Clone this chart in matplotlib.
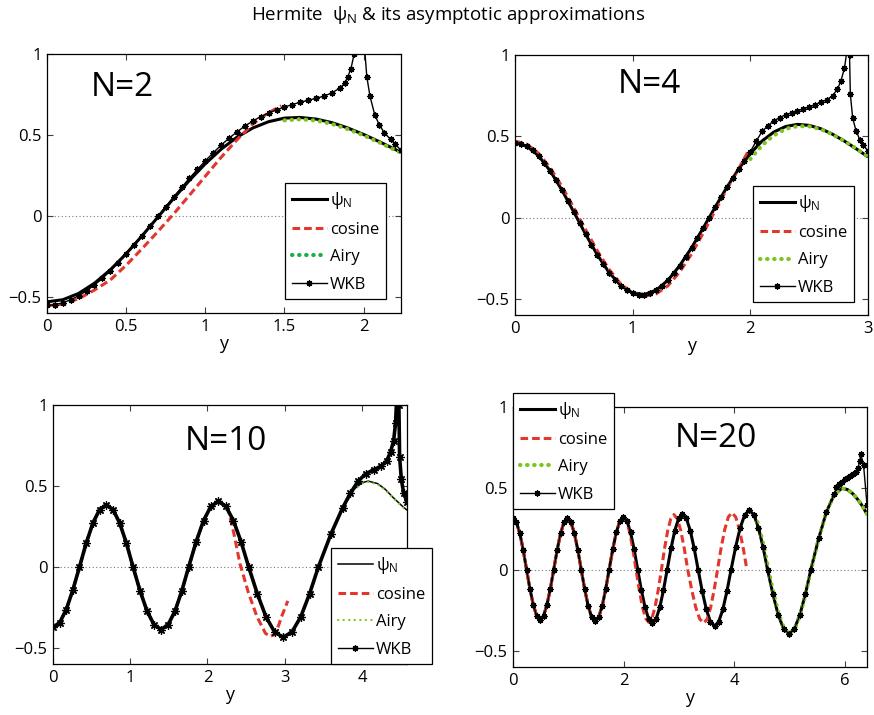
import matplotlib
matplotlib.use("Agg")
import matplotlib.pyplot as plt
from matplotlib.lines import Line2D
from matplotlib.ticker import FuncFormatter

plt.rcParams["font.family"] = ["Open Sans", "DejaVu Sans"]
plt.rcParams["mathtext.fontset"] = "custom"
plt.rcParams["mathtext.rm"] = "Open Sans"
plt.rcParams["mathtext.it"] = "Open Sans:italic"
plt.rcParams["mathtext.bf"] = "Open Sans:bold"
plt.rcParams["axes.unicode_minus"] = True

# ---------------------------------------------------------------- N = 2
psi2_x = [0.0, 0.1, 0.2, 0.3, 0.4, 0.5, 0.6, 0.7, 0.8, 0.9, 1.0, 1.1, 1.2,
          1.3, 1.4, 1.5, 1.6, 1.7, 1.8, 1.9, 2.0, 2.1, 2.2, 2.236]
psi2_y = [-0.531, -0.518, -0.479, -0.416, -0.333, -0.234, -0.124, -0.008,
          0.108, 0.220, 0.322, 0.412, 0.486, 0.543, 0.582, 0.604, 0.608,
          0.598, 0.576, 0.543, 0.503, 0.458, 0.410, 0.392]
cos2_x = [0.0, 0.1, 0.2, 0.3, 0.4, 0.5, 0.6, 0.7, 0.8, 0.9, 1.0, 1.1, 1.2,
          1.3, 1.4, 1.48]
cos2_y = [-0.555, -0.545, -0.512, -0.458, -0.396, -0.305, -0.203, -0.097,
          0.012, 0.128, 0.245, 0.362, 0.470, 0.568, 0.638, 0.680]
airy2_x = [1.5, 1.6, 1.7, 1.8, 1.9, 2.0, 2.1, 2.2, 2.236]
airy2_y = [0.590, 0.597, 0.589, 0.568, 0.536, 0.497, 0.453, 0.406, 0.390]
wkb2_x = [0.0, 0.05, 0.1, 0.15, 0.2, 0.25, 0.3, 0.35, 0.4, 0.45, 0.5, 0.55,
          0.6, 0.65, 0.7, 0.75, 0.8, 0.85, 0.9, 0.95, 1.0, 1.05, 1.1, 1.15,
          1.2, 1.25, 1.3, 1.35, 1.4, 1.45, 1.5, 1.55, 1.6, 1.65, 1.7, 1.75,
          1.8, 1.85, 1.88, 1.9, 1.92, 1.94, 1.96, 1.985, 2.005, 2.02, 2.04,
          2.07, 2.1, 2.13, 2.17, 2.2, 2.236]
wkb2_y = [-0.553, -0.549, -0.537, -0.518, -0.494, -0.463, -0.427, -0.386,
          -0.340, -0.291, -0.237, -0.181, -0.123, -0.064, -0.003, 0.057,
          0.117, 0.176, 0.233, 0.287, 0.340, 0.390, 0.437, 0.480, 0.519,
          0.555, 0.586, 0.613, 0.636, 0.655, 0.672, 0.688, 0.702, 0.714,
          0.726, 0.740, 0.760, 0.790, 0.818, 0.860, 0.910, 1.000, 1.200,
          2.500, 1.050, 0.860, 0.740, 0.625, 0.560, 0.515, 0.472, 0.442,
          0.405]

# ---------------------------------------------------------------- N = 4
psi4_x = [0.0, 0.1, 0.2, 0.3, 0.4, 0.5, 0.6, 0.7, 0.8, 0.9, 1.0, 1.1, 1.2,
          1.3, 1.4, 1.5, 1.6, 1.7, 1.8, 1.9, 2.0, 2.1, 2.2, 2.3, 2.4, 2.5,
          2.6, 2.7, 2.8, 2.9, 3.0]
psi4_y = [0.460, 0.439, 0.380, 0.286, 0.167, 0.034, -0.103, -0.230, -0.339,
          -0.419, -0.465, -0.474, -0.447, -0.386, -0.296, -0.187, -0.064,
          0.062, 0.185, 0.298, 0.394, 0.471, 0.526, 0.560, 0.573, 0.567,
          0.546, 0.512, 0.470, 0.423, 0.373]
cos4_x = [0.0, 0.1, 0.2, 0.3, 0.4, 0.5, 0.6, 0.7, 0.8, 0.9, 1.0, 1.1, 1.2,
          1.3, 1.4, 1.5, 1.6, 1.7, 1.8, 1.9, 1.98]
cos4_y = [0.470, 0.452, 0.395, 0.305, 0.190, 0.060, -0.075, -0.205, -0.320,
          -0.410, -0.465, -0.485, -0.470, -0.420, -0.335, -0.225, -0.095,
          0.040, 0.175, 0.300, 0.405]
airy4_x = [2.0, 2.1, 2.2, 2.3, 2.4, 2.5, 2.6, 2.7, 2.8, 2.9, 3.0]
airy4_y = [0.360, 0.445, 0.505, 0.545, 0.562, 0.561, 0.543, 0.511, 0.470,
           0.424, 0.375]
wkb4_x = [0.0, 0.05, 0.1, 0.15, 0.2, 0.25, 0.3, 0.35, 0.4, 0.45, 0.5, 0.55,
          0.6, 0.65, 0.7, 0.75, 0.8, 0.85, 0.9, 0.95, 1.0, 1.05, 1.1, 1.15,
          1.2, 1.25, 1.3, 1.35, 1.4, 1.45, 1.5, 1.55, 1.6, 1.65, 1.7, 1.75,
          1.8, 1.85, 1.9, 1.95, 2.0, 2.05, 2.1, 2.15, 2.2, 2.25, 2.3, 2.35,
          2.4, 2.45, 2.5, 2.55, 2.6, 2.65, 2.7, 2.74, 2.77, 2.8, 2.82, 2.835,
          2.843, 2.85, 2.87, 2.9, 2.93, 2.96, 3.0]
wkb4_y = [0.460, 0.455, 0.439, 0.414, 0.380, 0.337, 0.286, 0.229, 0.167,
          0.102, 0.034, -0.035, -0.103, -0.168, -0.230, -0.288, -0.339,
          -0.383, -0.419, -0.446, -0.465, -0.474, -0.474, -0.465, -0.447,
          -0.420, -0.386, -0.344, -0.296, -0.244, -0.187, -0.127, -0.064,
          -0.001, 0.062, 0.125, 0.185, 0.243, 0.298, 0.348, 0.405, 0.470,
          0.530, 0.565, 0.595, 0.615, 0.632, 0.645, 0.657, 0.668, 0.680,
          0.695, 0.710, 0.725, 0.750, 0.790, 0.840, 0.920, 1.020, 2.000,
          1.000, 0.760, 0.610, 0.530, 0.480, 0.445, 0.410]

# ---------------------------------------------------------------- N = 10
psi10_x = [0.0, 0.086, 0.171, 0.257, 0.343, 0.430, 0.517, 0.603, 0.690,
           0.777, 0.863, 0.950, 1.036, 1.127, 1.218, 1.309, 1.400, 1.489,
           1.579, 1.668, 1.757, 1.853, 1.949, 2.044, 2.140, 2.238, 2.336,
           2.435, 2.533, 2.645, 2.757, 2.868, 2.980, 3.094, 3.208, 3.322,
           3.436, 3.600, 3.750, 3.900, 4.000, 4.080, 4.200, 4.300, 4.400,
           4.500, 4.583]
psi10_y = [-0.373, -0.345, -0.264, -0.143, 0.0, 0.147, 0.271, 0.354, 0.383,
           0.354, 0.271, 0.147, 0.0, -0.148, -0.274, -0.358, -0.387, -0.358,
           -0.274, -0.148, 0.0, 0.155, 0.286, 0.374, 0.405, 0.374, 0.286,
           0.155, 0.0, -0.166, -0.308, -0.402, -0.435, -0.402, -0.308,
           -0.166, 0.0, 0.205, 0.365, 0.480, 0.520, 0.530, 0.515, 0.480,
           0.430, 0.385, 0.350]
cos10_tail_x = [2.20, 2.27, 2.34, 2.42, 2.53, 2.64, 2.75, 2.81, 2.86, 2.90,
                2.96, 3.04]
cos10_tail_y = [0.390, 0.350, 0.210, 0.020, -0.160, -0.307, -0.410, -0.430,
                -0.420, -0.390, -0.307, -0.210]
airy10_x = [3.600, 3.750, 3.900, 4.000, 4.080, 4.200, 4.300, 4.400, 4.500,
            4.583]
airy10_y = [0.200, 0.360, 0.475, 0.515, 0.525, 0.510, 0.476, 0.426, 0.381,
            0.346]
wkb10_tail_x = [3.85, 3.95, 4.05, 4.15, 4.25, 4.32, 4.37, 4.41, 4.435, 4.45,
                4.465, 4.478, 4.487, 4.51, 4.54, 4.583]
wkb10_tail_y = [0.455, 0.530, 0.575, 0.600, 0.622, 0.655, 0.710, 0.780,
                0.890, 1.050, 2.000, 1.000, 0.680, 0.540, 0.455, 0.400]

# ---------------------------------------------------------------- N = 20
psi20_x = [0.0, 0.061, 0.123, 0.184, 0.245, 0.306, 0.368, 0.429, 0.490,
           0.552, 0.613, 0.675, 0.737, 0.799, 0.861, 0.923, 0.985, 1.047,
           1.110, 1.172, 1.234, 1.297, 1.360, 1.423, 1.486, 1.549, 1.613,
           1.676, 1.739, 1.804, 1.868, 1.933, 1.997, 2.062, 2.126, 2.191,
           2.255, 2.321, 2.388, 2.454, 2.520, 2.587, 2.655, 2.722, 2.789,
           2.858, 2.927, 2.996, 3.065, 3.136, 3.206, 3.277, 3.348, 3.422,
           3.497, 3.571, 3.645, 3.720, 3.795, 3.870, 3.945, 4.028, 4.110,
           4.193, 4.275, 4.357, 4.439, 4.522, 4.604, 4.701, 4.797, 4.894,
           4.990, 5.090, 5.189, 5.289, 5.388, 5.529, 5.669, 5.810, 5.950,
           6.050, 6.150, 6.250, 6.330, 6.403]
psi20_y = [0.315, 0.291, 0.223, 0.121, 0.0, -0.119, -0.219, -0.286, -0.310,
           -0.286, -0.219, -0.119, 0.0, 0.121, 0.223, 0.291, 0.315, 0.291,
           0.223, 0.121, 0.0, -0.122, -0.225, -0.294, -0.318, -0.294, -0.225,
           -0.122, 0.0, 0.124, 0.228, 0.298, 0.323, 0.298, 0.228, 0.124, 0.0,
           -0.126, -0.233, -0.305, -0.330, -0.305, -0.233, -0.126, 0.0, 0.130,
           0.240, 0.314, 0.340, 0.314, 0.240, 0.130, 0.0, -0.133, -0.246,
           -0.322, -0.348, -0.322, -0.246, -0.133, 0.0, 0.140, 0.258, 0.337,
           0.365, 0.337, 0.258, 0.140, 0.0, -0.151, -0.279, -0.365, -0.395,
           -0.365, -0.279, -0.151, 0.0, 0.191, 0.354, 0.462, 0.500, 0.492,
           0.465, 0.425, 0.385, 0.340]
cos20_tail_x = [2.054, 2.111, 2.168, 2.225, 2.283, 2.340, 2.398, 2.455,
                2.513, 2.570, 2.628, 2.685, 2.741, 2.798, 2.854, 2.910, 2.973,
                3.035, 3.098, 3.160, 3.233, 3.305, 3.378, 3.450, 3.513, 3.575,
                3.638, 3.700, 3.765, 3.830, 3.895, 3.960, 4.028, 4.095, 4.163,
                4.230]
cos20_tail_y = [0.298, 0.228, 0.124, 0.0, -0.124, -0.230, -0.300, -0.325,
                -0.300, -0.230, -0.124, 0.0, 0.129, 0.239, 0.312, 0.338, 0.312,
                0.239, 0.129, 0.0, -0.126, -0.233, -0.305, -0.330, -0.305,
                -0.233, -0.126, 0.0, 0.134, 0.247, 0.323, 0.350, 0.323, 0.247,
                0.134, 0.0]
airy20_x = [4.290, 4.372, 4.455, 4.538, 4.620, 4.716, 4.811, 4.906, 5.000,
            5.097, 5.194, 5.292, 5.390, 5.530, 5.670, 5.810, 5.955, 6.050,
            6.150, 6.250, 6.330, 6.403]
airy20_y = [0.365, 0.337, 0.258, 0.140, 0.0, -0.151, -0.279, -0.365, -0.395,
            -0.365, -0.279, -0.151, 0.0, 0.191, 0.354, 0.462, 0.500, 0.492,
            0.465, 0.425, 0.385, 0.340]
wkb20_tail_x = [5.85, 5.90, 5.95, 6.00, 6.05, 6.10, 6.15, 6.20, 6.24, 6.27,
                6.29, 6.34, 6.403]
wkb20_tail_y = [0.505, 0.525, 0.540, 0.556, 0.565, 0.575, 0.585, 0.600,
                0.625, 0.665, 0.710, 0.645, 0.400]

# series assembled from the shared parts
cos10_x = psi10_x[:25] + cos10_tail_x
cos10_y = psi10_y[:25] + cos10_tail_y
wkb10_x = psi10_x[:39] + wkb10_tail_x
wkb10_y = psi10_y[:39] + wkb10_tail_y
cos20_x = psi20_x[:33] + cos20_tail_x
cos20_y = psi20_y[:33] + cos20_tail_y
wkb20_x = psi20_x[:80] + wkb20_tail_x
wkb20_y = psi20_y[:80] + wkb20_tail_y

panel_names = ["N=2", "N=4", "N=10", "N=20"]
x_limits = [2.236, 3.0, 4.583, 6.403]
x_ticks = [[0, 0.5, 1, 1.5, 2], [0, 1, 2, 3], [0, 1, 2, 3, 4], [0, 2, 4, 6]]
y_ticks = [-0.5, 0, 0.5, 1]
legend_labels = [r"$\mathrm{\psi}_\mathrm{N}$", "cosine", "Airy", "WKB"]

RED = "#e3362c"
LIME = "#7cc520"
EMERALD = "#1eab4e"
ASTERISK = (8, 2, 0)

fig = plt.figure(figsize=(8.74, 7.15), dpi=100)

rects = [
    [47 / 874, 1 - 313 / 715, 354 / 874, 259 / 715],
    [515 / 874, 1 - 315 / 715, 353 / 874, 260 / 715],
    [53 / 874, 1 - 664 / 715, 354 / 874, 259 / 715],
    [513 / 874, 1 - 667 / 715, 354 / 874, 260 / 715],
]

panels = [
    dict(psi=(psi2_x, psi2_y), cos=(cos2_x, cos2_y), airy=(airy2_x, airy2_y),
         wkb=(wkb2_x, wkb2_y), psi_lw=2.2, airy_lw=3.0, airy_gap=1.6,
         airy_leg=EMERALD, wkb_lw=1.0, wkb_ms=4.5, text_xy=(0.212, 0.869),
         leg_xy=(0.672, 0.502)),
    dict(psi=(psi4_x, psi4_y), cos=(cos4_x, cos4_y), airy=(airy4_x, airy4_y),
         wkb=(wkb4_x, wkb4_y), psi_lw=2.2, airy_lw=3.0, airy_gap=1.6,
         airy_leg=LIME, wkb_lw=1.0, wkb_ms=4.5, text_xy=(0.382, 0.885),
         leg_xy=(0.674, 0.496)),
    dict(psi=(psi10_x, psi10_y), cos=(cos10_x, cos10_y),
         airy=(airy10_x, airy10_y), wkb=(wkb10_x, wkb10_y), psi_lw=1.1,
         airy_lw=1.6, airy_gap=2.4, airy_leg=LIME, wkb_lw=2.6, wkb_ms=6,
         text_xy=(0.488, 0.858), leg_xy=(0.785, 0.448)),
    dict(psi=(psi20_x, psi20_y), cos=(cos20_x, cos20_y),
         airy=(airy20_x, airy20_y), wkb=(wkb20_x, wkb20_y), psi_lw=2.2,
         airy_lw=3.0, airy_gap=1.6, airy_leg=LIME, wkb_lw=1.0, wkb_ms=4.5,
         text_xy=(0.573, 0.877), leg_xy=(0.0, 1.054)),
]


def tick_fmt(v, _pos):
    s = "%g" % v
    return s.replace("-", "\u2212")


for i, p in enumerate(panels):
    ax = fig.add_axes(rects[i])
    ax.axhline(0, color="#7a7a7a", lw=0.8, ls=(0, (1, 2.2)), zorder=0.5)

    ax.plot(*p["psi"], color="k", lw=p["psi_lw"], solid_capstyle="butt",
            zorder=2)
    ax.plot(*p["cos"], color=RED, lw=2.2, ls=(0, (2.5, 1.3)), zorder=3)
    ax.plot(*p["airy"], color=LIME, lw=p["airy_lw"],
            ls=(0, (0.1, p["airy_gap"])), dash_capstyle="round", zorder=4)
    ax.plot(*p["wkb"], color="k", lw=p["wkb_lw"], marker=ASTERISK,
            ms=p["wkb_ms"], mew=0.9, zorder=5)

    ax.set_xlim(0, x_limits[i])
    ax.set_ylim(-0.6, 1.0)
    ax.set_xticks(x_ticks[i])
    ax.set_yticks(y_ticks)
    ax.xaxis.set_major_formatter(FuncFormatter(tick_fmt))
    ax.yaxis.set_major_formatter(FuncFormatter(tick_fmt))
    ax.tick_params(direction="in", length=4, width=0.8, top=True, right=True,
                   labelsize=12, pad=4, color="0.25")
    for sp in ax.spines.values():
        sp.set_linewidth(0.9)
    ax.set_xlabel("y", fontsize=13, labelpad=0)

    ax.text(*p["text_xy"], panel_names[i], transform=ax.transAxes,
            ha="center", va="center", fontsize=24)

    handles = [
        Line2D([], [], color="k", lw=p["psi_lw"]),
        Line2D([], [], color=RED, lw=2.2, ls=(0, (2.5, 1.3))),
        Line2D([], [], color=p["airy_leg"], lw=p["airy_lw"],
               ls=(0, (0.1, p["airy_gap"])), dash_capstyle="round"),
        Line2D([], [], color="k", lw=1.0, marker=ASTERISK, ms=4.5, mew=0.9),
    ]
    leg = ax.legend(handles, legend_labels, loc="upper left",
                    bbox_to_anchor=p["leg_xy"], fontsize=12, frameon=True,
                    fancybox=False, framealpha=1, edgecolor="k",
                    borderaxespad=0, borderpad=0.4, handlelength=2.1,
                    handletextpad=0.2, labelspacing=0.68, markerscale=1.0)
    leg.get_frame().set_linewidth(0.9)
    leg.set_zorder(10)

fig.text(0.513, 1 - 20 / 715,
         r"Hermite  $\mathrm{\psi}_\mathrm{N}$ & its asymptotic approximations",
         ha="center", va="baseline", fontsize=13.5)

fig.savefig("out.png", dpi=100)
